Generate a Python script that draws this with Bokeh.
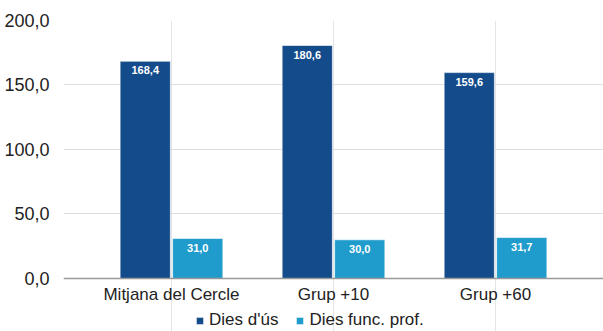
from bokeh.plotting import figure
from bokeh.models import ColumnDataSource, LabelSet, Legend, LegendItem, FactorRange, Range1d, Span
from bokeh.core.properties import value
from bokeh.transform import dodge
from bokeh.embed import file_html
from bokeh.resources import INLINE

categories = ["Mitjana del Cercle", "Grup +10", "Grup +60"]
dies_us = [168.4, 180.6, 159.6]
dies_func = [31.0, 30.0, 31.7]
series_names = ["Dies d'ús", "Dies func. prof."]
y_ticks = [0, 50, 100, 150, 200]

def fmt(v):
    return f"{v:.1f}".replace(".", ",")

src = ColumnDataSource(dict(
    cat=categories,
    base=[0] * len(categories),
    us=dies_us,
    func=dies_func,
    us_lbl=[fmt(v) for v in dies_us],
    func_lbl=[fmt(v) for v in dies_func],
))

FONT = "Liberation Sans"
DARK = "#134b8b"
LIGHT = "#1f9bcc"

p = figure(x_range=FactorRange(*categories, range_padding=0.111),
           y_range=Range1d(-41.09, 200), x_axis_location=None,
           frame_width=540, frame_height=311, output_backend="svg", toolbar_location=None,
           min_border_left=63, min_border_right=0, min_border_top=20, min_border_bottom=0)
p.outline_line_color = None

r1 = p.vbar(x=dodge("cat", -0.162, range=p.x_range), top="us", width=0.31, source=src,
            fill_color=DARK, line_color="#ffffff", line_width=0.6)
r2 = p.vbar(x=dodge("cat", 0.162, range=p.x_range), top="func", width=0.31, source=src,
            fill_color=LIGHT, line_color="#ffffff", line_width=0.6)

for col, off in (("us_lbl", -0.162), ("func_lbl", 0.162)):
    ycol = "us" if col == "us_lbl" else "func"
    p.add_layout(LabelSet(x=dodge("cat", off, range=p.x_range), y=ycol, text=col, source=src,
                          text_align="center", text_baseline="top", y_offset=-5,
                          text_color="white", text_font=value(FONT), text_font_style="bold",
                          text_font_size="11px"))

# baseline and category labels
p.add_layout(Span(location=0, dimension="width", line_color="#999999", line_width=1.5))
p.add_layout(LabelSet(x="cat", y="base", text="cat", source=src,
                      text_align="center", text_baseline="top", y_offset=-7,
                      text_color="#222222", text_font=value(FONT), text_font_size="17px"))

p.yaxis.ticker = y_ticks
p.yaxis.major_label_overrides = {t: fmt(t) for t in y_ticks}
p.yaxis.axis_line_color = None
p.yaxis.major_tick_line_color = None
p.yaxis.minor_tick_line_color = None
p.yaxis.major_label_text_font = FONT
p.yaxis.major_label_text_font_size = "18px"
p.yaxis.major_label_text_color = "#222222"
p.yaxis.major_label_standoff = 8

p.ygrid.grid_line_color = "#dddddd"

legend = Legend(items=[LegendItem(label=series_names[0], renderers=[r1]),
                       LegendItem(label=series_names[1], renderers=[r2])],
                orientation="horizontal", location=(132, 1),
                label_text_font=FONT, label_text_font_size="17px", label_text_color="#222222",
                glyph_width=9, glyph_height=9, label_standoff=5, spacing=17,
                padding=0, margin=0, border_line_color=None, background_fill_alpha=0)
p.add_layout(legend, "center")

open("out.html", "w").write(file_html(p, INLINE))
